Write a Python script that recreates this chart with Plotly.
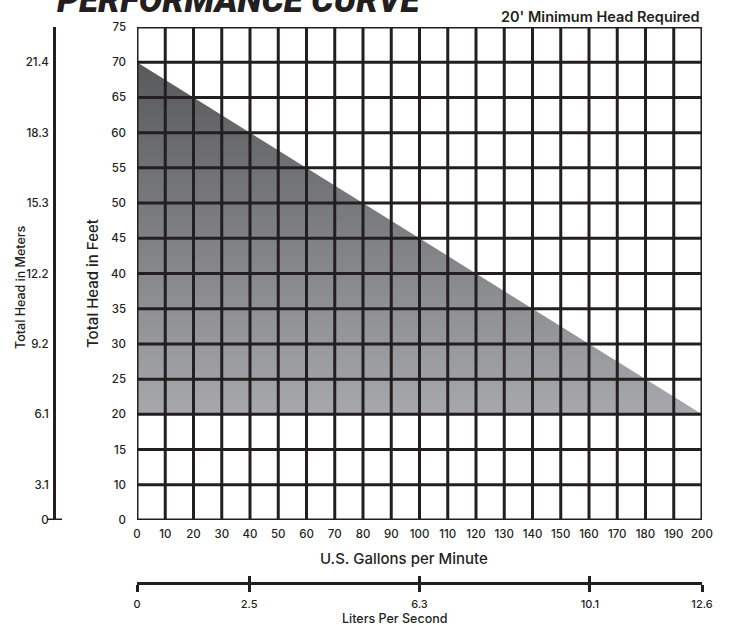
import plotly.graph_objects as go

# ---- data ----
gpm_curve = [0, 200]          # U.S. gallons per minute
head_curve = [70, 20]         # total head in feet
min_head = 20                 # 20' minimum head required

gpm_ticks = [0, 10, 20, 30, 40, 50, 60, 70, 80, 90, 100, 110, 120, 130, 140, 150, 160, 170, 180, 190, 200]
feet_ticks = [0, 10, 15, 20, 25, 30, 35, 40, 45, 50, 55, 60, 65, 70, 75]
meter_feet = [0, 10, 20, 30, 40, 50, 60, 70]
meter_labels = ["0", "3.1", "6.1", "9.2", "12.2", "15.3", "18.3", "21.4"]
liters_ticks = [0, 2.5, 6.3, 10.1, 12.6]
liters_labels = ["0", "2.5", "6.3", "10.1", "12.6"]

# broken axis: the "0" row is drawn where 5 would be
def fpos(v):
    return 5 if v == 0 else v

feet_pos = [fpos(v) for v in feet_ticks]
meter_pos = [fpos(v) for v in meter_feet]

W, H = 735, 625
ML, MR, MT, MB = 54, 33, 27, 20
PW = W - ML - MR
PH = H - MT - MB
x_dom0 = (137 - ML) / PW
y_dom0 = (H - MB - 520) / PH
lit_pos = (H - MB - 583) / PH

INK = "#231f20"
FONT = "Inter, Liberation Sans, Arial, sans-serif"

fig = go.Figure()

# filled performance region
poly_x = gpm_curve + gpm_curve[::-1]
poly_y = head_curve + [min_head] * len(gpm_curve)
fig.add_trace(go.Scatter(
    x=poly_x, y=poly_y, fill="toself", mode="lines",
    line=dict(width=0, color="rgba(0,0,0,0)"),
    fillgradient=dict(type="vertical",
                      colorscale=[[0, "#a7a8ab"], [1, "#58595b"]]),
    hoverinfo="skip", showlegend=False))

# invisible helper traces so the secondary axes render
fig.add_trace(go.Scatter(x=liters_ticks, y=[5] * len(liters_ticks), xaxis="x2", yaxis="y",
                         mode="markers", marker=dict(opacity=0), hoverinfo="skip", showlegend=False))
fig.add_trace(go.Scatter(x=liters_ticks, y=[5] * len(liters_ticks), xaxis="x3", yaxis="y",
                         mode="markers", marker=dict(opacity=0), hoverinfo="skip", showlegend=False))
fig.add_trace(go.Scatter(x=[0] * len(meter_pos), y=meter_pos, xaxis="x", yaxis="y2",
                         mode="markers", marker=dict(opacity=0), hoverinfo="skip", showlegend=False))

# grid drawn above the fill
shapes = []
for g in gpm_ticks:
    shapes.append(dict(type="line", xref="x", yref="y", x0=g, x1=g, y0=feet_pos[0], y1=feet_pos[-1],
                       line=dict(color=INK, width=3), layer="above"))
for p in feet_pos:
    shapes.append(dict(type="line", xref="x", yref="y", x0=gpm_ticks[0], x1=gpm_ticks[-1], y0=p, y1=p,
                       line=dict(color=INK, width=3), layer="above"))
# small cross tick at the bottom of the meters scale
shapes.append(dict(type="line", xref="paper", yref="y", x0=-7 / PW, x1=8 / PW, y0=feet_pos[0], y1=feet_pos[0],
                   line=dict(color=INK, width=3), layer="above"))

tickfont = dict(family=FONT, size=11.5, color=INK, weight=500)

fig.update_layout(
    width=W, height=H,
    margin=dict(l=ML, r=MR, t=MT, b=MB),
    paper_bgcolor="white", plot_bgcolor="white",
    showlegend=False,
    shapes=shapes,
    xaxis=dict(domain=[x_dom0, 1], range=[gpm_ticks[0], gpm_ticks[-1]],
               tickmode="array", tickvals=gpm_ticks, ticktext=[str(v) for v in gpm_ticks],
               showgrid=False, zeroline=False, showline=False, ticks="",
               tickfont=tickfont, ticklabelstandoff=5),
    yaxis=dict(domain=[y_dom0, 1], range=[feet_pos[0], feet_pos[-1]],
               tickmode="array", tickvals=feet_pos, ticktext=[str(v) for v in feet_ticks],
               showgrid=False, zeroline=False, showline=False, ticks="",
               tickfont=tickfont, ticklabelstandoff=10),
    yaxis2=dict(overlaying="y", anchor="free", position=0, side="left",
                range=[feet_pos[0], feet_pos[-1]],
                tickmode="array", tickvals=meter_pos, ticktext=meter_labels,
                showgrid=False, zeroline=False, showline=True, linecolor=INK, linewidth=3,
                ticks="", tickfont=tickfont, ticklabelstandoff=2),
    xaxis2=dict(overlaying="x", anchor="free", position=lit_pos, side="bottom",
                range=[liters_ticks[0], liters_ticks[-1]],
                tickmode="array", tickvals=liters_ticks, ticktext=liters_labels,
                showgrid=False, zeroline=False, showline=True, linecolor=INK, linewidth=3,
                ticks="outside", ticklen=7, tickwidth=3, tickcolor=INK,
                tickfont=dict(family=FONT, size=11, color=INK, weight=500), ticklabelstandoff=3),
    xaxis3=dict(overlaying="x", anchor="free", position=lit_pos, side="bottom",
                range=[liters_ticks[0], liters_ticks[-1]],
                tickmode="array", tickvals=liters_ticks,
                showgrid=False, zeroline=False, showline=False, showticklabels=False,
                ticks="inside", ticklen=7, tickwidth=3, tickcolor=INK),
)

def ypx(py):
    return (H - MB - py) / PH

def xpx(px):
    return (px - ML) / PW

annotations = [
    dict(text="PERFORMANCE CURVE", xref="paper", yref="paper", x=xpx(55), y=ypx(0.5),
         xanchor="left", yanchor="middle", showarrow=False,
         font=dict(family="Roboto, Liberation Sans, sans-serif", size=35, color=INK,
                   weight=900, style="italic")),
    dict(text="20' Minimum Head Required", xref="paper", yref="paper", x=1, y=ypx(16.5),
         xanchor="right", yanchor="middle", showarrow=False,
         font=dict(family=FONT, size=14.5, color=INK, weight=600)),
    dict(text="Total Head in Feet", xref="paper", yref="paper", x=xpx(92), y=ypx(284),
         xanchor="center", yanchor="middle", textangle=-90, showarrow=False,
         font=dict(family=FONT, size=15, color=INK, weight=500)),
    dict(text="Total Head in Meters", xref="paper", yref="paper", x=xpx(20), y=ypx(287),
         xanchor="center", yanchor="middle", textangle=-90, showarrow=False,
         font=dict(family=FONT, size=12.5, color=INK, weight=500)),
    dict(text="U.S. Gallons per Minute", xref="paper", yref="paper", x=xpx(404), y=ypx(558),
         xanchor="center", yanchor="middle", showarrow=False,
         font=dict(family=FONT, size=15, color=INK, weight=500)),
    dict(text="Liters Per Second", xref="paper", yref="paper", x=xpx(394), y=ypx(618),
         xanchor="center", yanchor="middle", showarrow=False,
         font=dict(family=FONT, size=12.5, color=INK, weight=500)),
]
fig.update_layout(annotations=annotations)

fig.write_html("out.html", config={"displayModeBar": False},
               post_script="document.body.style.margin='0';")
